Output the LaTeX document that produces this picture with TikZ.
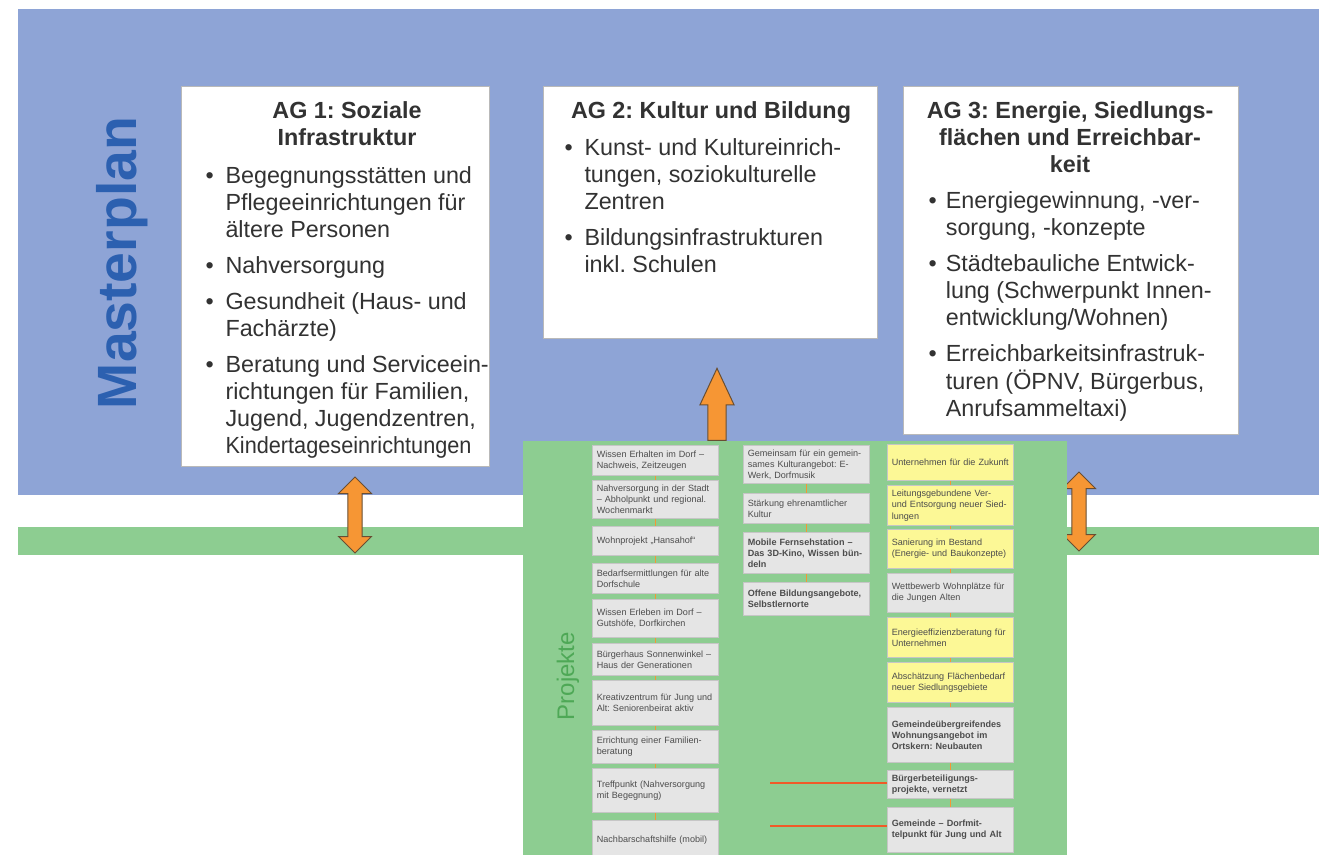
\documentclass[tikz,border=0pt]{standalone}
\usepackage{fontspec}
\setmainfont{Liberation Sans}
\frenchspacing
\usetikzlibrary{shapes.arrows}

\definecolor{planblue}{RGB}{142,164,214}
\definecolor{planbluetext}{RGB}{44,96,176}
\definecolor{projgreen}{RGB}{141,205,145}
\definecolor{projgreentext}{RGB}{78,168,86}
\definecolor{arrorange}{RGB}{246,150,52}
\definecolor{arredge}{RGB}{105,78,50}
\definecolor{boxgray}{RGB}{229,229,229}
\definecolor{boxyellow}{RGB}{252,248,150}
\definecolor{linkred}{RGB}{240,90,40}
\definecolor{agtext}{RGB}{50,50,50}

\tikzset{every picture/.style={line width=0.75pt}}
\tikzset{
  agbox/.style={draw=gray!55, fill=white, anchor=north west, inner sep=0pt},
  agtitle/.style={anchor=north, inner sep=0pt, align=center, text=agtext,
    font=\fontsize{17.5}{20}\selectfont\bfseries},
  aglist/.style={anchor=north west, inner sep=0pt, text=agtext,
    font=\fontsize{17.5}{20.25}\selectfont},
  dblarr/.style={double arrow, rotate=90, draw=arredge, fill=arrorange, inner sep=4.9pt,
    double arrow head extend=7.1pt},
  uparr/.style={single arrow, rotate=90, draw=arredge, fill=arrorange, inner sep=6.4pt,
    single arrow head extend=6pt, single arrow tip angle=50},
  proj/.style={draw=gray!45, fill=boxgray, anchor=north west, minimum width=94.5pt,
    text width=88pt, inner sep=3pt, align=left, text=gray!60!black,
    font=\fontsize{6.8}{8.4}\selectfont},
  projy/.style={proj, fill=boxyellow},
  boxlink/.style={draw=arrorange, line width=1pt},
  redlink/.style={draw=linkred, line width=2pt}
}

\begin{document}
\begin{tikzpicture}[x=0.75pt,y=0.75pt,yscale=-1,xscale=1]
\useasboundingbox (0,0) rectangle (1319,855);
\clip (0,0) rectangle (1319,855);

%Shape: Rectangle [Masterplan band]
\fill[planblue] (18,9) rectangle (1319,495);
%Shape: Rectangle [Projekte band]
\fill[projgreen] (18,527) rectangle (1319,555);

% Text Node
\node[rotate=90, text=planbluetext, font=\fontsize{41.5}{41.5}\selectfont\bfseries] (master) at (122,263) {Masterplan};

%Shape: Rectangle
\node[agbox, minimum width=231pt, minimum height=285pt] (ag1) at (181,86) {};
\node[agbox, minimum width=250.5pt, minimum height=189pt] (ag2) at (543,86) {};
\node[agbox, minimum width=251.25pt, minimum height=261pt] (ag3) at (903,86) {};

% Text Node
\node[agtitle] (ag1title) at (347,101.5) {AG 1: Soziale\\Infrastruktur};
% Text Node
\node[agtitle] (ag2title) at (711,101.5) {AG 2: Kultur und Bildung};
% Text Node
\node[agtitle] (ag3title) at (1070,101.5) {AG 3: Energie, Siedlungs-\\flächen und Erreichbar-\\keit};

% Text Node
\node[aglist] (ag1list) at (205,164.5) {\begin{tabular}{@{}p{15pt}@{}l@{}}
\textbullet & Begegnungsstätten und\\
 & Pflegeeinrichtungen für\\
 & ältere Personen\\[6.75pt]
\textbullet & Nahversorgung\\[6.75pt]
\textbullet & Gesundheit (Haus- und\\
 & Fachärzte)\\[6.75pt]
\textbullet & Beratung und Serviceein-\\
 & richtungen für Familien,\\
 & Jugend, Jugendzentren,\\
 & \scalebox{0.93}[1]{Kindertageseinrichtungen}
\end{tabular}};
% Text Node
\node[aglist] (ag2list) at (564,136.5) {\begin{tabular}{@{}p{15pt}@{}l@{}}
\textbullet & Kunst- und Kultureinrich-\\
 & tungen, soziokulturelle\\
 & Zentren\\[6.75pt]
\textbullet & Bildungsinfrastrukturen\\
 & inkl. Schulen
\end{tabular}};
% Text Node
\node[aglist] (ag3list) at (928,189.5) {\begin{tabular}{@{}p{13pt}@{}l@{}}
\textbullet & Energiegewinnung, -ver-\\
 & sorgung, -konzepte\\[6.75pt]
\textbullet & Städtebauliche Entwick-\\
 & lung (Schwerpunkt Innen-\\
 & entwicklung/Wohnen)\\[6.75pt]
\textbullet & Erreichbarkeitsinfrastruk-\\
 & turen (ÖPNV, Bürgerbus,\\
 & Anrufsammeltaxi)
\end{tabular}};

%Shape: Up Down Arrow
\node[dblarr, minimum height=57pt] (arr1) at (355,515) {};
%Shape: Up Down Arrow
\node[dblarr, minimum height=59.25pt] (arr3) at (1079,511.5) {};
%Shape: Up Arrow
\node[uparr, minimum height=54pt] (arr2) at (717,414) {};

%Shape: Rectangle [Projekte panel]
\fill[projgreen] (523,441) rectangle (1067,860);
% Text Node
\node[rotate=90, text=projgreentext, font=\fontsize{18}{18}\selectfont] (projekte) at (568,676) {Projekte};

% column 1
\node[proj, minimum height=22.5pt] (p1a) at (592,445) {Wissen Erhalten im Dorf – Nachweis, Zeitzeugen};
\node[proj, minimum height=28.5pt] (p1b) at (592,480) {Nahversorgung in der Stadt – Abholpunkt und regional. Wochenmarkt};
\node[proj, minimum height=21.75pt] (p1c) at (592,526) {Wohnprojekt „Hansahof“};
\node[proj, minimum height=22.5pt] (p1d) at (592,563) {Bedarfsermittlungen für alte Dorfschule};
\node[proj, minimum height=28.5pt] (p1e) at (592,599) {Wissen Erleben im Dorf – Gutshöfe, Dorfkirchen};
\node[proj, minimum height=24pt] (p1f) at (592,643) {Bürgerhaus Sonnenwinkel – Haus der Generationen};
\node[proj, minimum height=33.75pt] (p1g) at (592,680) {Kreativzentrum für Jung und Alt: Seniorenbeirat aktiv};
\node[proj, minimum height=24.75pt] (p1h) at (592,730) {Errichtung einer Familienberatung};
\node[proj, minimum height=33pt] (p1i) at (592,768) {Treffpunkt (Nahversorgung mit Begegnung)};
\node[proj, minimum height=30pt] (p1j) at (592,820) {Nachbarschaftshilfe (mobil)};

% column 2
\node[proj, minimum height=28.5pt] (p2a) at (743,445) {Gemeinsam für ein gemeinsames Kulturangebot: E-Werk, Dorfmusik};
\node[proj, minimum height=22.5pt] (p2b) at (743,493) {Stärkung ehrenamtlicher Kultur};
\node[proj, minimum height=30.75pt, font=\fontsize{6.8}{8.4}\selectfont\bfseries] (p2c) at (743,532) {Mobile Fernsehstation – Das 3D-Kino, Wissen bündeln};
\node[proj, minimum height=24.75pt, font=\fontsize{6.8}{8.4}\selectfont\bfseries] (p2d) at (743,582) {Offene Bildungsangebote, Selbstlernorte};

% column 3
\node[projy, minimum height=27pt] (p3a) at (887,444) {Unternehmen für die Zukunft};
\node[projy, minimum height=30pt] (p3b) at (887,485) {Leitungsgebundene Ver- und Entsorgung neuer Siedlungen};
\node[projy, minimum height=29.25pt] (p3c) at (887,529) {Sanierung im Bestand (Energie- und Baukonzepte)};
\node[proj, minimum height=29.25pt] (p3d) at (887,573) {Wettbewerb Wohnplätze für die Jungen Alten};
\node[projy, minimum height=30pt] (p3e) at (887,617) {Energieeffizienz\-beratung für Unternehmen};
\node[projy, minimum height=30pt] (p3f) at (887,662) {Abschätzung Flächenbedarf neuer Siedlungsgebiete};
\node[proj, minimum height=41.25pt, font=\fontsize{6.8}{8.4}\selectfont\bfseries] (p3g) at (887,707) {Gemeindeübergreifendes Wohnungsangebot im Ortskern: Neubauten};
\node[proj, minimum height=21pt, font=\fontsize{6.8}{8.4}\selectfont\bfseries] (p3h) at (887,770) {Bürgerbeteiligungs\-projekte, vernetzt};
\node[proj, minimum height=33.75pt, font=\fontsize{6.8}{8.4}\selectfont\bfseries] (p3i) at (887,807) {Gemeinde – Dorfmittelpunkt für Jung und Alt};

%Straight Lines
\draw[boxlink] (p1a.south) -- (p1b.north);
\draw[boxlink] (p1b.south) -- (p1c.north);
\draw[boxlink] (p1c.south) -- (p1d.north);
\draw[boxlink] (p1d.south) -- (p1e.north);
\draw[boxlink] (p1e.south) -- (p1f.north);
\draw[boxlink] (p1f.south) -- (p1g.north);
\draw[boxlink] (p1g.south) -- (p1h.north);
\draw[boxlink] (p1h.south) -- (p1i.north);
\draw[boxlink] (p1i.south) -- (p1j.north);
\draw[boxlink] (p2a.south) -- (p2b.north);
\draw[boxlink] (p2b.south) -- (p2c.north);
\draw[boxlink] (p2c.south) -- (p2d.north);
\draw[boxlink] (p3a.south) -- (p3b.north);
\draw[boxlink] (p3b.south) -- (p3c.north);
\draw[boxlink] (p3c.south) -- (p3d.north);
\draw[boxlink] (p3d.south) -- (p3e.north);
\draw[boxlink] (p3e.south) -- (p3f.north);
\draw[boxlink] (p3f.south) -- (p3g.north);
\draw[boxlink] (p3g.south) -- (p3h.north);
\draw[boxlink] (p3h.south) -- (p3i.north);

%Straight Lines
\coordinate (r1) at (770,783);
\coordinate (r2) at (770,826);
\draw[redlink] (r1) -- (r1 -| p3h.west);
\draw[redlink, line width=1.5pt] (r2) -- (r2 -| p3i.west);

\end{tikzpicture}
\end{document}
